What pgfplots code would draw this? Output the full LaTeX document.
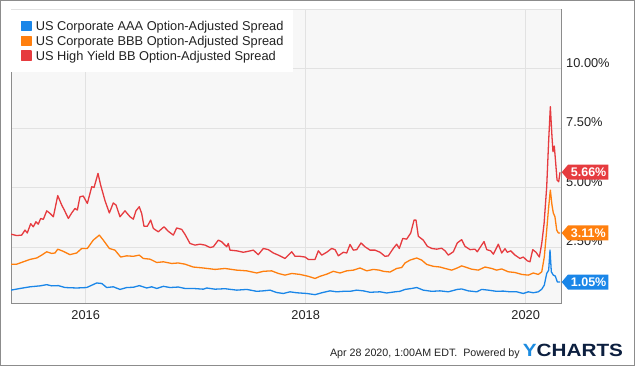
\documentclass[border=0pt]{standalone}
\usepackage{pgfplots}
\pgfplotsset{compat=1.18}
\usepackage{graphicx}
\usepackage{fontspec}
\setmainfont{Liberation Sans}
\definecolor{cAAA}{HTML}{1A86E8}
\definecolor{cBBB}{HTML}{FF7F0E}
\definecolor{cBB}{HTML}{E63B3F}
\definecolor{plotbg}{HTML}{F7F7F7}
\definecolor{gridc}{HTML}{E2E2E2}
\definecolor{axisc}{HTML}{8C8C8C}
\definecolor{txt}{HTML}{222222}
\definecolor{ylogo}{HTML}{1C8BE0}
\definecolor{navy}{HTML}{0C1F3F}

\pgfplotstableread{
x y
2015.321 0.71
2015.403 0.78
2015.494 0.85
2015.585 0.89
2015.646 0.94
2015.691 0.89
2015.751 0.90
2015.812 0.82
2015.918 0.80
2016.009 0.82
2016.100 1.01
2016.146 0.99
2016.191 0.82
2016.251 0.85
2016.312 0.74
2016.373 0.82
2016.433 0.83
2016.487 0.90
2016.555 0.80
2016.600 0.85
2016.646 0.78
2016.706 0.87
2016.767 0.82
2016.842 0.84
2016.903 0.78
2016.978 0.78
2017.069 0.75
2017.100 0.80
2017.176 0.75
2017.267 0.77
2017.373 0.71
2017.464 0.74
2017.555 0.66
2017.615 0.68
2017.676 0.71
2017.736 0.61
2017.797 0.57
2017.857 0.64
2017.918 0.60
2018.009 0.57
2018.085 0.52
2018.146 0.60
2018.221 0.68
2018.282 0.64
2018.342 0.66
2018.403 0.66
2018.464 0.71
2018.524 0.68
2018.585 0.62
2018.676 0.64
2018.736 0.59
2018.812 0.64
2018.857 0.66
2018.903 0.74
2018.964 0.78
2019.009 0.82
2019.069 0.71
2019.146 0.66
2019.221 0.68
2019.297 0.64
2019.378 0.74
2019.418 0.76
2019.478 0.68
2019.555 0.64
2019.600 0.74
2019.660 0.71
2019.736 0.66
2019.797 0.67
2019.857 0.64
2019.918 0.64
2019.978 0.57
2020.024 0.64
2020.069 0.60
2020.115 0.64
2020.146 0.75
2020.169 0.92
2020.191 1.41
2020.209 1.55
2020.221 2.39
2020.233 1.48
2020.251 1.34
2020.269 1.30
2020.288 1.05
2020.312 1.05
}\aaa

\pgfplotstableread{
x y
2015.321 1.80
2015.373 1.80
2015.433 1.90
2015.494 2.00
2015.555 2.06
2015.600 2.18
2015.646 2.32
2015.691 2.25
2015.721 2.27
2015.746 2.43
2015.796 2.34
2015.857 2.20
2015.918 2.27
2015.964 2.46
2016.015 2.46
2016.069 2.81
2016.124 3.02
2016.160 2.81
2016.215 2.46
2016.266 2.39
2016.318 2.10
2016.373 2.15
2016.433 2.13
2016.487 2.18
2016.524 2.04
2016.585 2.01
2016.646 1.87
2016.706 1.90
2016.782 1.83
2016.842 1.85
2016.903 1.80
2016.978 1.68
2017.069 1.64
2017.176 1.58
2017.267 1.62
2017.373 1.55
2017.464 1.52
2017.555 1.43
2017.615 1.50
2017.691 1.52
2017.751 1.41
2017.812 1.34
2017.873 1.41
2017.948 1.37
2018.024 1.29
2018.085 1.20
2018.130 1.29
2018.191 1.38
2018.251 1.50
2018.312 1.43
2018.373 1.52
2018.433 1.55
2018.494 1.64
2018.555 1.52
2018.615 1.58
2018.669 1.55
2018.706 1.50
2018.767 1.47
2018.827 1.62
2018.873 1.66
2018.903 1.85
2018.948 1.97
2019.009 2.06
2019.055 1.97
2019.100 1.79
2019.160 1.71
2019.221 1.68
2019.267 1.62
2019.327 1.55
2019.378 1.64
2019.418 1.73
2019.464 1.66
2019.509 1.59
2019.569 1.55
2019.630 1.68
2019.691 1.62
2019.736 1.55
2019.782 1.60
2019.842 1.48
2019.903 1.45
2019.964 1.37
2020.024 1.34
2020.069 1.43
2020.115 1.37
2020.146 1.48
2020.169 2.10
2020.191 3.23
2020.209 4.21
2020.224 4.91
2020.239 4.28
2020.251 3.95
2020.266 3.79
2020.282 3.23
2020.297 3.11
2020.312 3.11
}\bbb

\pgfplotstableread{
x y
2015.321 3.06
2015.373 3.00
2015.418 3.02
2015.448 3.23
2015.469 3.11
2015.500 3.50
2015.524 3.37
2015.548 3.58
2015.569 3.48
2015.591 3.72
2015.615 3.68
2015.646 4.04
2015.676 3.93
2015.706 3.79
2015.746 4.68
2015.782 4.28
2015.806 4.07
2015.842 3.72
2015.873 3.95
2015.903 4.14
2015.924 4.07
2015.948 4.63
2015.978 4.66
2016.015 4.35
2016.055 5.05
2016.076 5.02
2016.112 5.61
2016.136 5.12
2016.176 4.46
2016.215 3.95
2016.251 4.37
2016.276 4.28
2016.312 3.79
2016.357 4.04
2016.403 3.79
2016.433 3.69
2016.457 4.04
2016.487 4.21
2016.509 3.93
2016.530 3.39
2016.560 3.39
2016.591 3.65
2016.615 3.30
2016.660 3.16
2016.712 3.37
2016.751 3.18
2016.797 3.02
2016.827 3.32
2016.873 3.26
2016.903 3.05
2016.948 2.67
2016.994 2.60
2017.039 2.64
2017.085 2.60
2017.130 2.50
2017.160 2.53
2017.206 2.81
2017.236 2.74
2017.282 2.53
2017.296 2.67
2017.312 2.39
2017.373 2.36
2017.433 2.30
2017.478 2.34
2017.524 2.39
2017.569 2.20
2017.615 2.46
2017.660 2.41
2017.706 2.27
2017.751 2.18
2017.812 2.04
2017.873 2.32
2017.903 2.13
2017.948 2.13
2017.994 2.10
2018.024 2.00
2018.085 2.00
2018.115 2.36
2018.146 2.18
2018.191 2.30
2018.236 2.46
2018.267 2.41
2018.297 2.15
2018.342 2.30
2018.373 2.27
2018.403 2.63
2018.433 2.39
2018.464 2.41
2018.503 2.69
2018.539 2.53
2018.585 2.39
2018.630 2.39
2018.676 2.30
2018.721 2.13
2018.751 2.15
2018.796 2.46
2018.827 2.64
2018.851 2.46
2018.882 2.88
2018.918 2.85
2018.955 3.11
2018.985 3.65
2019.003 3.65
2019.024 2.97
2019.069 2.81
2019.106 2.55
2019.146 2.46
2019.191 2.43
2019.236 2.47
2019.267 2.36
2019.297 2.18
2019.342 2.32
2019.378 2.69
2019.418 2.83
2019.448 2.55
2019.494 2.41
2019.539 2.43
2019.560 2.32
2019.585 2.50
2019.621 2.75
2019.646 2.41
2019.682 2.36
2019.706 2.22
2019.751 2.64
2019.782 2.27
2019.812 2.45
2019.833 2.30
2019.864 2.36
2019.903 2.18
2019.948 2.04
2019.978 2.10
2020.015 1.94
2020.039 1.90
2020.064 2.41
2020.094 2.30
2020.124 2.10
2020.146 2.67
2020.167 3.50
2020.191 5.05
2020.209 7.00
2020.224 8.41
2020.239 7.15
2020.248 6.52
2020.260 6.76
2020.273 6.03
2020.285 5.33
2020.300 5.26
2020.312 5.66
}\bb

\newcommand{\valtag}[3]{%
  \fill[#1] ([xshift=0.7bp]#2) -- ++(6.3bp,7.5bp) -- ++(40.3bp,0) -- ++(0,-15bp) -- ++(-40.3bp,0) -- cycle;
  \node[anchor=west, inner sep=0pt, text=white, font=\bfseries\fontsize{12.5bp}{14bp}\selectfont] at ([xshift=9.7bp]#2) {#3};
}

\begin{document}
\begin{tikzpicture}[x=1bp,y=1bp]
\useasboundingbox (0,0) rectangle (635,366);
\begin{axis}[
  at={(11bp,63bp)}, anchor=south west, scale only axis,
  width=550bp, height=293bp,
  xmin=2015.321, xmax=2020.321, ymin=0.17, ymax=12.47,
  axis background/.style={fill=plotbg},
  axis line style={axisc, line width=1bp},
  xtick={2016,2018,2020}, xticklabels={2016,2018,2020},
  ytick={2.5,5,7.5,10}, yticklabels={2.50\%,5.00\%,7.50\%,10.00\%},
  yticklabel pos=right,
  tick style={draw=none},
  grid=major,
  major grid style={gridc, line width=1bp},
  ticklabel style={font=\fontsize{12.8bp}{15bp}\selectfont, text=txt},
  xticklabel style={anchor=north, inner sep=0pt, yshift=-7.5bp},
  yticklabel style={anchor=base west, inner sep=0pt, xshift=5bp, yshift=1.5bp},
  legend image code/.code={\fill (0bp,-4.65bp) rectangle (9.3bp,4.65bp);},
  legend style={at={(0,1)}, anchor=north west, draw=none, fill=white,
    inner xsep=10bp, inner ysep=10.5bp, row sep=4.3bp, column sep=4bp,
    font=\fontsize{12.8bp}{15bp}\selectfont, text=txt,
    nodes={inner sep=0pt, text height=9.3bp, text depth=0pt}},
  legend cell align=left,
]
\draw[gridc, line width=1bp] (rel axis cs:0,1) -- (rel axis cs:1,1);
\addplot[cAAA, line width=1.3bp, line join=round] table {\aaa};
\addlegendentry{US Corporate AAA Option-Adjusted Spread}
\addplot[cBBB, line width=1.3bp, line join=round] table {\bbb};
\addlegendentry{US Corporate BBB Option-Adjusted Spread}
\addplot[cBB, line width=1.3bp, line join=round] table {\bb};
\addlegendentry{US High Yield BB Option-Adjusted Spread}
\coordinate (tA) at (axis cs:2020.321,1.05);
\coordinate (tB) at (axis cs:2020.321,3.11);
\coordinate (tC) at (axis cs:2020.321,5.66);
\end{axis}
\valtag{cBB}{tC}{5.66\%}
\valtag{cBBB}{tB}{3.11\%}
\valtag{cAAA}{tA}{1.05\%}
\node[anchor=base east, inner sep=0pt, text=txt, font=\fontsize{10.7bp}{12bp}\selectfont] at (520,10) {Apr 28 2020, 1:00AM EDT.\ \ Powered by};
\node[anchor=base west, inner sep=0pt, font=\bfseries\fontsize{17.7bp}{20bp}\selectfont] at (522.7,10) {\scalebox{1.17}[1]{\textcolor{ylogo}{Y}\textcolor{navy}{CHARTS}}};
\draw[color=axisc, line width=1bp] (0.5,0.5) rectangle (634.5,365.5);
\end{tikzpicture}
\end{document}
